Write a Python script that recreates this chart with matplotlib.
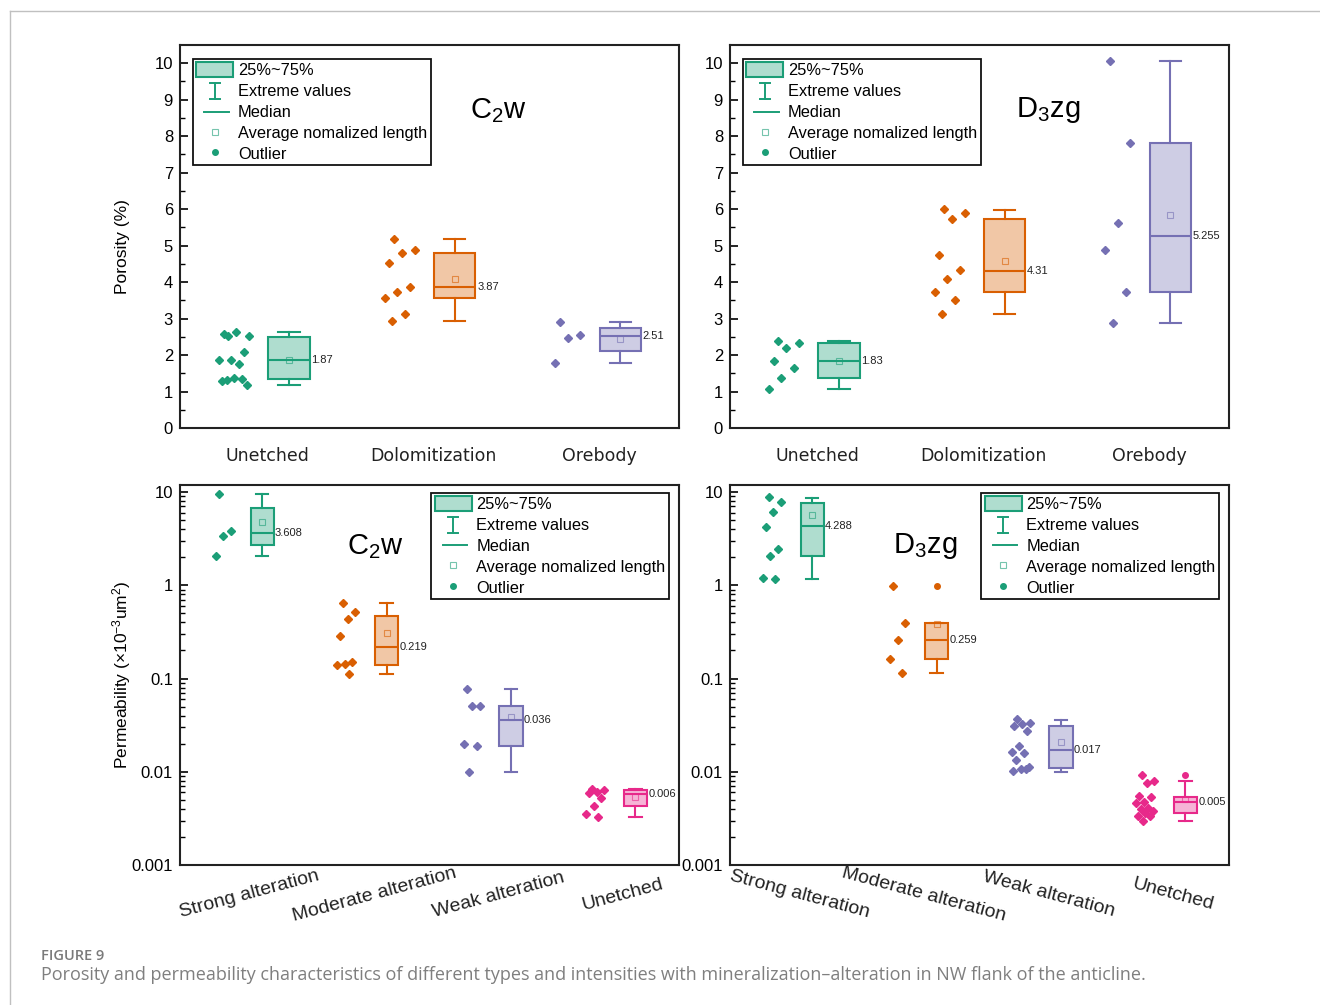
import numpy as np
import matplotlib
matplotlib.use('Agg')
import matplotlib.pyplot as plt
from matplotlib.patches import Patch
from matplotlib.lines import Line2D
from matplotlib.legend_handler import HandlerBase
import matplotlib.transforms as mtrans

plt.rcParams['font.family'] = ['Liberation Sans', 'DejaVu Sans']
plt.rcParams['mathtext.fontset'] = 'custom'
plt.rcParams['mathtext.rm'] = 'Liberation Sans'
plt.rcParams['mathtext.default'] = 'regular'

colors = ['#1b9e77', '#d95f02', '#7570b3', '#e7298a']

# ---- porosity data (top row) ----
poro_cats = ['Unetched', 'Dolomitization', 'Orebody']
# box stats: [whisker low, q1, median, q3, whisker high, mean]
c2w_poro_box = [[1.18, 1.34, 1.87, 2.49, 2.62, 1.87],
                [2.92, 3.57, 3.87, 4.81, 5.18, 4.08],
                [1.78, 2.12, 2.51, 2.74, 2.90, 2.44]]
c2w_poro_pts = [[2.51, 2.51, 2.62, 2.58, 2.07, 1.87, 1.87, 1.76, 1.32, 1.18, 1.36, 1.30, 1.34],
                [5.18, 4.89, 4.80, 4.52, 3.87, 3.73, 3.57, 3.13, 2.92],
                [2.90, 2.55, 2.48, 1.78]]
d3zg_poro_box = [[1.08, 1.38, 1.83, 2.34, 2.39, 1.84],
                 [3.12, 3.74, 4.31, 5.74, 5.99, 4.58],
                 [2.87, 3.73, 5.255, 7.80, 10.07, 5.84]]
d3zg_poro_pts = [[2.39, 2.34, 2.18, 1.83, 1.65, 1.38, 1.08],
                 [6.01, 5.90, 5.74, 4.75, 4.32, 4.09, 3.74, 3.51, 3.12],
                 [10.07, 7.80, 5.63, 4.88, 3.73, 2.87]]
poro_fliers_d3zg = [[], [], []]
poro_fliers_c2w = [[], [], []]
poro_ticks = [0, 1, 2, 3, 4, 5, 6, 7, 8, 9, 10]

# ---- permeability data (bottom row) ----
perm_cats = ['Strong alteration', 'Moderate alteration', 'Weak alteration', 'Unetched']
c2w_perm_box = [[2.05, 2.69, 3.608, 6.76, 9.6, 4.75],
                [0.112, 0.140, 0.219, 0.474, 0.64, 0.304],
                [0.010, 0.019, 0.036, 0.0506, 0.077, 0.0383],
                [0.00324, 0.00429, 0.0058, 0.0064, 0.0066, 0.00532]]
c2w_perm_pts = [[9.6, 3.83, 3.36, 2.05],
                [0.638, 0.515, 0.44, 0.284, 0.151, 0.143, 0.138, 0.112],
                [0.077, 0.0506, 0.0506, 0.0197, 0.019, 0.010],
                [0.00657, 0.00636, 0.0061, 0.00587, 0.00519, 0.00432, 0.00352, 0.00324]]
c2w_perm_fliers = [[], [], [], []]
d3zg_perm_box = [[1.17, 2.04, 4.288, 7.7, 8.73, 5.74],
                 [0.116, 0.160, 0.259, 0.395, 0.395, 0.383],
                 [0.0100, 0.0110, 0.017, 0.0309, 0.0361, 0.0207],
                 [0.00296, 0.00358, 0.0047, 0.0054, 0.0080, 0.0051]]
d3zg_perm_pts = [[8.86, 7.78, 6.07, 4.23, 2.42, 2.04, 1.21, 1.17],
                 [0.99, 0.395, 0.256, 0.160, 0.116],
                 [0.0367, 0.0335, 0.0325, 0.0311, 0.0271, 0.0190, 0.0164, 0.0160,
                  0.0133, 0.0113, 0.0108, 0.0103, 0.0106],
                 [0.00929, 0.00795, 0.00757, 0.0055, 0.0054, 0.0047, 0.00458, 0.00411,
                  0.00398, 0.00382, 0.00358, 0.00338, 0.00333, 0.00296]]
d3zg_perm_fliers = [[], [0.99], [], [0.0093]]
perm_ticks = [0.001, 0.01, 0.1, 1, 10]
perm_ticklabels = ['0.001', '0.01', '0.1', '1', '10']

legend_labels = ['25%~75%', 'Extreme values', 'Median', 'Average nomalized length', 'Outlier']


class HandlerIBar(HandlerBase):
    def create_artists(self, legend, orig_handle, xdescent, ydescent, width, height, fontsize, trans):
        cx = width / 2 - xdescent
        y0 = -ydescent - height * 0.1
        y1 = -ydescent + height * 1.0
        cw = width * 0.14
        arts = [Line2D([cx, cx], [y0, y1]), Line2D([cx - cw, cx + cw], [y0, y0]),
                Line2D([cx - cw, cx + cw], [y1, y1])]
        for a in arts:
            a.set_color(colors[0])
            a.set_linewidth(1.4)
            a.set_transform(trans)
        return arts


class HandlerShortLine(HandlerBase):
    def create_artists(self, legend, orig_handle, xdescent, ydescent, width, height, fontsize, trans):
        y = -ydescent + height / 2
        ln = Line2D([-xdescent + 0.22 * width, -xdescent + 0.88 * width], [y, y],
                    color=colors[0], linewidth=1.4, transform=trans)
        return [ln]


def jitter(n, spread):
    # deterministic spread of points beside each box
    k = np.arange(n)
    return ((k * 0.618034 + 0.31) % 1.0 - 0.5) * spread


def draw_panel(ax, boxes, pts, fliers, box_off, box_w, pt_off, pt_spread, cap_w):
    for i, (b, p, fl) in enumerate(zip(boxes, pts, fliers)):
        c = colors[i]
        pos = i + 1
        st = [dict(whislo=b[0], q1=b[1], med=b[2], q3=b[3], whishi=b[4], mean=b[5], fliers=fl)]
        ax.bxp(st, positions=[pos + box_off], widths=box_w, patch_artist=True, showmeans=True,
               capwidths=cap_w, manage_ticks=False,
               boxprops=dict(facecolor=matplotlib.colors.to_rgba(c, 0.35), edgecolor=c, linewidth=1.5),
               medianprops=dict(color=c, linewidth=1.5),
               whiskerprops=dict(color=c, linewidth=1.5),
               capprops=dict(color=c, linewidth=1.5),
               meanprops=dict(marker='s', markerfacecolor='none', markeredgecolor=c,
                              markersize=4, alpha=0.6, markeredgewidth=0.8),
               flierprops=dict(marker='o', markerfacecolor=c, markeredgecolor=c, markersize=4))
        xs = pos + pt_off + jitter(len(p), pt_spread)
        ax.plot(xs, p, linestyle='none', marker='D', markersize=4.2, color=c)
        ax.text(pos + box_off + box_w / 2 + 0.01, b[2], f'{round(b[2], 3):g}',
                fontsize=8, va='center', ha='left', color='#222222')


def style_axes(ax):
    for s in ax.spines.values():
        s.set_linewidth(1.5)
        s.set_color('#222222')
    ax.tick_params(axis='y', which='both', direction='in', labelsize=12, pad=5, right=False)
    ax.tick_params(axis='y', which='major', length=6, width=1.2)
    ax.tick_params(axis='y', which='minor', length=3.5, width=1.0)
    ax.tick_params(axis='x', which='both', length=0, labelbottom=False)


def add_legend(ax, loc, anchor):
    h_box = Patch(facecolor=matplotlib.colors.to_rgba(colors[0], 0.35), edgecolor=colors[0], linewidth=1.5)
    h_bar = Line2D([], [])
    h_med = Line2D([], [])
    h_mean = Line2D([], [], linestyle='none', marker='s', markerfacecolor='none',
                    markeredgecolor=colors[0], markersize=4, alpha=0.6, markeredgewidth=0.8)
    h_out = Line2D([], [], linestyle='none', marker='o', color=colors[0], markersize=4)
    leg = ax.legend([h_box, h_bar, h_med, h_mean, h_out], legend_labels, loc=loc, bbox_to_anchor=anchor,
                    handler_map={h_bar: HandlerIBar(), h_med: HandlerShortLine()},
                    fontsize=11.8, frameon=True, fancybox=False,
                    framealpha=1, edgecolor='#111111', borderpad=0.2, labelspacing=0.3,
                    handlelength=2.25, handleheight=1.0, handletextpad=0.3, borderaxespad=0)
    leg.get_frame().set_linewidth(1.3)


fig = plt.figure(figsize=(13.2, 10.05), dpi=100)
W, H = 1320, 1005


def axes_px(x0, y0, x1, y1):
    return fig.add_axes([x0 / W, 1 - y1 / H, (x1 - x0) / W, (y1 - y0) / H])


ax_tl = axes_px(180, 45, 679, 428)
ax_tr = axes_px(730, 45, 1229, 428)
ax_bl = axes_px(180, 485, 679, 865)
ax_br = axes_px(730, 485, 1229, 865)

# top row: porosity
for ax, boxes, pts, fl, name in [(ax_tl, c2w_poro_box, c2w_poro_pts, poro_fliers_c2w, 'C$_2$w'),
                                 (ax_tr, d3zg_poro_box, d3zg_poro_pts, poro_fliers_d3zg, 'D$_3$zg')]:
    draw_panel(ax, boxes, pts, fl, box_off=0.127, box_w=0.25, pt_off=-0.2, pt_spread=0.2, cap_w=0.13)
    ax.set_xlim(0.47, 3.48)
    ax.set_ylim(0, 10.5)
    ax.set_yticks(poro_ticks)
    ax.set_yticks(np.arange(0.5, 10.5, 1.0), minor=True)
    style_axes(ax)
    trans = mtrans.blended_transform_factory(ax.transData, ax.transAxes)
    for i, lab in enumerate(poro_cats):
        ax.text(i + 1, -0.073, lab, transform=trans, ha='center', va='center',
                fontsize=12.5, family='DejaVu Sans', color='#222222')
    ax.text(0.638, 0.83, name, transform=ax.transAxes, ha='center', va='center', fontsize=21)
    add_legend(ax, 'upper left', (0.026, 0.963))

# bottom row: permeability
for ax, boxes, pts, fl, name, rot in [(ax_bl, c2w_perm_box, c2w_perm_pts, c2w_perm_fliers, 'C$_2$w', 15),
                                      (ax_br, d3zg_perm_box, d3zg_perm_pts, d3zg_perm_fliers, 'D$_3$zg', -15)]:
    draw_panel(ax, boxes, pts, fl, box_off=0.1, box_w=0.185, pt_off=-0.22, pt_spread=0.16, cap_w=0.1)
    ax.set_yscale('log')
    ax.set_xlim(0.44, 4.45)
    ax.set_ylim(0.001, 11.9)
    ax.set_yticks(perm_ticks, perm_ticklabels)
    ax.yaxis.set_minor_locator(matplotlib.ticker.LogLocator(base=10, subs=np.arange(2, 10)))
    ax.yaxis.set_minor_formatter(matplotlib.ticker.NullFormatter())
    style_axes(ax)
    trans = mtrans.blended_transform_factory(ax.transData, ax.transAxes)
    for i, lab in enumerate(perm_cats):
        ax.text(i + 1, -0.078, lab, transform=trans, ha='center', va='center', rotation=rot,
                rotation_mode='anchor', fontsize=14, color='#222222')
    ax.text(0.392, 0.839, name, transform=ax.transAxes, ha='center', va='center', fontsize=21)
    add_legend(ax, 'upper right', (0.98, 0.979))

fig.text(122 / W, 1 - 247 / H, 'Porosity (%)', rotation=90, ha='center', va='center', fontsize=12.5)
fig.text(122 / W, 1 - 675 / H, 'Permeability (×10$^{-3}$um$^{2}$)', rotation=90, ha='center',
         va='center', fontsize=12.5)

# page frame and caption
fig.add_artist(Line2D([10 / W, 1], [1 - 11 / H, 1 - 11 / H], transform=fig.transFigure, color='#c0c0c0', lw=1))
fig.add_artist(Line2D([10 / W, 10 / W], [0, 1 - 11 / H], transform=fig.transFigure, color='#c0c0c0', lw=1))
fig.text(41 / W, 1 - 956 / H, 'FIGURE 9', fontsize=10.5, color='#7a7a7a', weight='semibold',
         family=['Open Sans', 'DejaVu Sans'], va='center')
fig.text(41 / W, 1 - 975 / H,
         'Porosity and permeability characteristics of different types and intensities with '
         'mineralization\u2013alteration in NW flank of the anticline.',
         fontsize=13.0, color='#7f7f7f', family=['Open Sans', 'DejaVu Sans'], va='center')

fig.savefig('out.png', dpi=100)
